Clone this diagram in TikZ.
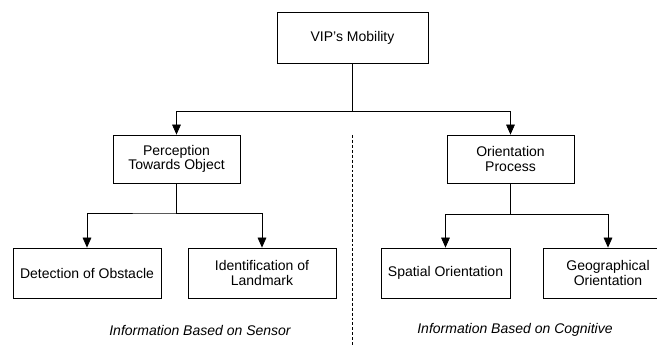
\documentclass[tikz,border=0pt]{standalone}
\usepackage{fontspec}
\setmainfont{Liberation Sans}
\usepackage{tikz}
\usetikzlibrary{arrows.meta,calc}

\tikzset{
    box/.style={draw, line width=0.6pt, rectangle, align=center, inner sep=0pt,
        font=\fontsize{10.5}{11}\selectfont},
    arrowline/.style={line width=0.6pt, -{Triangle[length=7.5pt,width=6.5pt]}},
    plainline/.style={line width=0.6pt},
    infolabel/.style={font=\fontsize{10.5}{12}\selectfont\itshape},
}

\begin{document}
\begin{tikzpicture}[x=0.75pt, y=-0.75pt]
        % Fix the page to the size of the reference
        \useasboundingbox (0, 0) rectangle (657, 345);

        % Junction points where the connectors branch
        \coordinate (J1) at (352.5, 111);
        \coordinate (J2) at (177, 213);
        \coordinate (J3) at (510.5, 214);

        % Top level
        \node[box, minimum width=113.25pt, minimum height=38.25pt] (mobility) at (352.5, 37.5) {VIP’s Mobility};

        % Second level
        \node[box, minimum width=95.25pt, minimum height=36pt] (perception) at (176.5, 159) {Perception\\Towards Object};
        \node[box, minimum width=95.25pt, minimum height=36pt] (orientation) at (510.5, 159) {Orientation\\Process};

        % Third level
        \node[box, minimum width=111pt, minimum height=37.5pt] (detection) at (87, 273) {Detection of Obstacle};
        \node[box, minimum width=111pt, minimum height=37.5pt] (landmark) at (262, 273) {Identification of\\Landmark};
        \node[box, minimum width=96.75pt, minimum height=37.5pt] (spatial) at (445.5, 273) {Spatial Orientation};
        \node[box, minimum width=97.5pt, minimum height=37.5pt] (geographical) at (608, 273) {Geographical\\Orientation};

        % Captions under each half
        \node[infolabel] (sensor) at (200, 330) {Information Based on Sensor};
        \node[infolabel] (cognitive) at (515, 330) {Information Based on Cognitive};

        % Connectors
        \draw[arrowline] (mobility.south) |- (J1) -| (perception.north);
        \draw[arrowline] (J1) -| (orientation.north);

        \draw[arrowline] (perception.south) |- (J2) -| (detection.north);
        \draw[arrowline] (J2) -| (landmark.north);

        \draw[arrowline] (orientation.south) |- (J3) -| (spatial.north);
        \draw[arrowline] (J3) -| (geographical.north);

        % Separator between the two halves
        \coordinate (S1) at (352, 135);
        \coordinate (S2) at (352, 345);
        \draw[plainline, dash pattern=on 2.2pt off 1.5pt] (S1) -- (S2);
\end{tikzpicture}
\end{document}
